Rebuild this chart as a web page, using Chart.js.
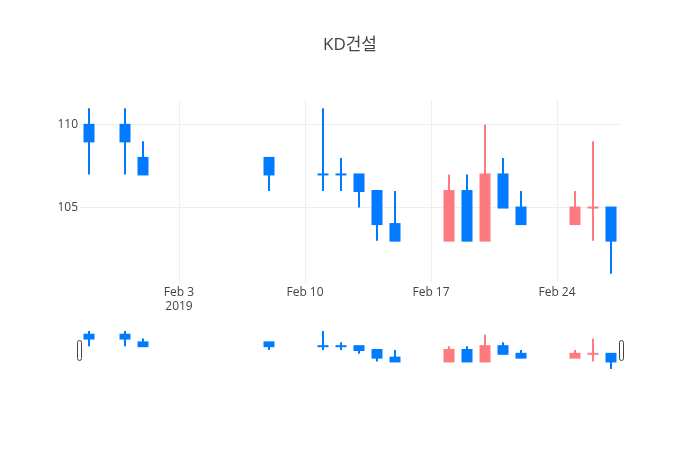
<!DOCTYPE html>
<html><head><meta charset="utf-8">
<script src="https://cdn.jsdelivr.net/npm/chart.js@4.4.1/dist/chart.umd.min.js"></script>
<style>
html,body{margin:0;padding:0;background:#fff}
#wrap{position:relative;width:700px;height:450px;background:#fff}
#main{position:absolute;left:0;top:0}
#slider{position:absolute;left:0;top:329px}
</style>
</head><body>
<div id="wrap"><canvas id="main" width="700" height="450"></canvas><canvas id="slider" width="700" height="42"></canvas></div>
<script>
const title = 'KD건설';
const dates  = ['2019-01-29','2019-01-31','2019-02-01','2019-02-08','2019-02-11','2019-02-12','2019-02-13','2019-02-14','2019-02-15','2019-02-18','2019-02-19','2019-02-20','2019-02-21','2019-02-22','2019-02-25','2019-02-26','2019-02-27'];
const opens  = [110,110,108,108,107,107,107,106,104,103,106,103,107,105,104,105,105];
const highs  = [111,111,109,108,111,108,107,106,106,107,107,110,108,106,106,109,105];
const lows   = [107,107,107,106,106,106,105,103,103,103,103,103,105,104,104,103,101];
const closes = [109,109,107,107,107,107,106,104,103,106,103,107,105,104,105,105,103];
const yTicks = [105,110];
const tickDates  = ['2019-02-03','2019-02-10','2019-02-17','2019-02-24'];
const tickLabels = [['Feb 3','2019'],'Feb 10','Feb 17','Feb 24'];

const INC = 'rgb(255,122,127)';
const DEC = 'rgb(0,123,255)';

Chart.defaults.font.family = "'Open Sans', 'Noto Sans CJK KR', sans-serif";

const day = s => Date.UTC(+s.slice(0,4), +s.slice(5,7)-1, +s.slice(8,10)) / 864e5;

// direction: close vs open; ties resolved by previous close, then previous direction
const colors = [];
let prevDir = 'dec';
for (let i = 0; i < dates.length; i++) {
  const o = opens[i], c = closes[i];
  let d;
  if (c > o) d = 'inc';
  else if (c < o) d = 'dec';
  else {
    const pc = i > 0 ? closes[i-1] : c;
    d = c > pc ? 'inc' : (c < pc ? 'dec' : prevDir);
  }
  prevDir = d;
  colors.push(d === 'inc' ? INC : DEC);
}

const xMin = day(dates[0]) - 0.5;
const xMax = day(dates[dates.length-1]) + 0.5;
const yMin = Math.min(...lows) - 0.5;
const yMax = Math.max(...highs) + 0.5;

function makeDatasets() {
  return [
    { data: dates.map((d,i) => ({x: day(d), y: [lows[i], highs[i]]})),
      backgroundColor: colors, barThickness: 2, grouped: false, inflateAmount: 0, order: 2 },
    { data: dates.map((d,i) => ({x: day(d), y: [opens[i], closes[i]]})),
      backgroundColor: colors, barThickness: 9, grouped: false, inflateAmount: 1, order: 1 }
  ];
}

new Chart(document.getElementById('main'), {
  type: 'bar',
  data: { datasets: makeDatasets() },
  options: {
    responsive: false, animation: false,
    layout: { padding: { left: 0, right: 0, top: 0, bottom: 128 } },
    plugins: {
      legend: { display: false }, tooltip: { enabled: false },
      title: { display: true, text: title, color: '#444',
               font: { size: 17, weight: 'normal' }, padding: { top: 35, bottom: 44.6 } }
    },
    scales: {
      x: {
        type: 'linear', min: xMin, max: xMax, offset: false,
        grid: { color: '#eee', offset: false, drawTicks: false },
        border: { display: false },
        afterBuildTicks: s => { s.ticks = tickDates.map(d => ({ value: day(d) })); },
        ticks: { color: '#444', font: { size: 12 }, padding: 3, maxRotation: 0, autoSkip: false,
                 callback: (v, i) => tickLabels[i] },
        afterFit: s => { s.height = 40; }
      },
      y: {
        type: 'linear', min: yMin, max: yMax,
        afterBuildTicks: s => { s.ticks = yTicks.map(v => ({ value: v })); },
        grid: { color: '#eee', drawTicks: false },
        border: { display: false },
        ticks: { color: '#444', font: { size: 12 }, padding: 2 },
        afterFit: s => { s.width = 80; }
      },
      yRight: {
        type: 'linear', position: 'right', min: yMin, max: yMax,
        grid: { display: false, drawTicks: false },
        border: { display: false },
        ticks: { display: false },
        afterFit: s => { s.width = 80; }
      }
    }
  }
});

const handles = {
  id: 'handles',
  afterDraw(chart) {
    const { ctx, chartArea: a } = chart;
    const cy = (a.top + a.bottom) / 2;
    [a.left - 3, a.right - 1].forEach(x => {
      ctx.save();
      ctx.beginPath();
      ctx.roundRect(x + 0.5, cy - 10 + 0.5, 4, 20, 2);
      ctx.fillStyle = '#fff';
      ctx.fill();
      ctx.lineWidth = 1;
      ctx.strokeStyle = '#444';
      ctx.stroke();
      ctx.restore();
    });
  }
};

new Chart(document.getElementById('slider'), {
  type: 'bar',
  data: { datasets: makeDatasets() },
  options: {
    responsive: false, animation: false,
    layout: { padding: { left: 80, right: 80, top: 0, bottom: 0 } },
    plugins: { legend: { display: false }, tooltip: { enabled: false } },
    scales: {
      x: { type: 'linear', display: false, min: xMin, max: xMax, offset: false, grid: { offset: false } },
      y: { type: 'linear', display: false, min: yMin, max: yMax }
    }
  },
  plugins: [handles]
});
</script>
</body></html>
